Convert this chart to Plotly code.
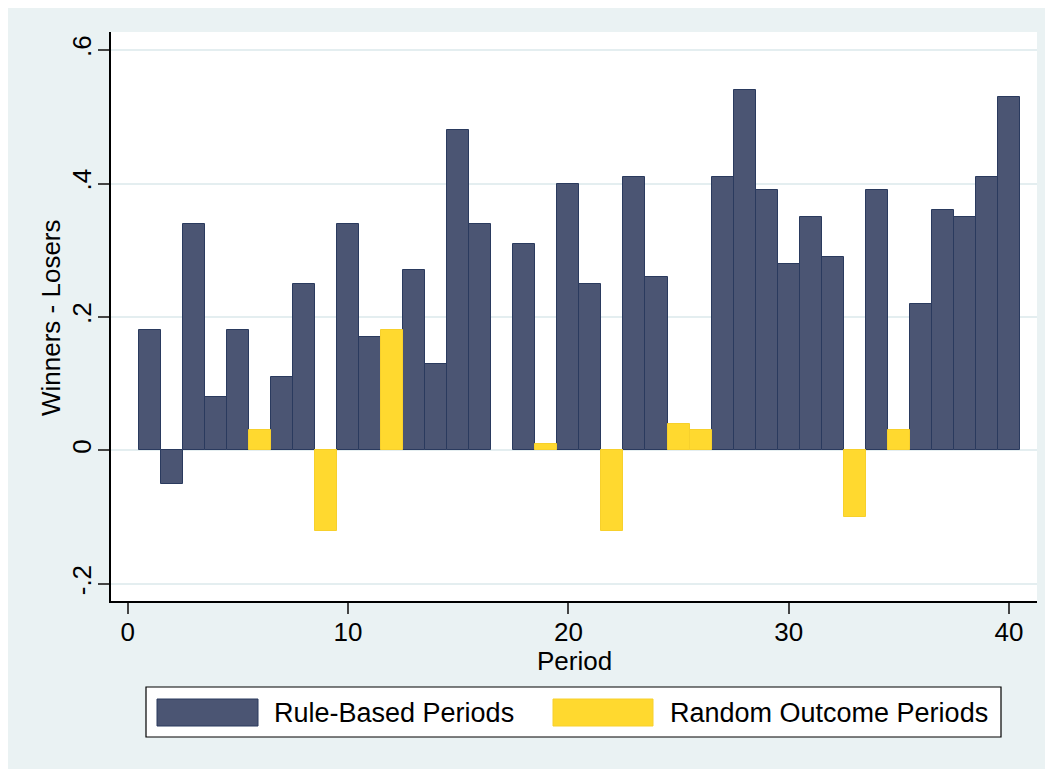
import plotly.graph_objects as go

# ---- data ----
rule_periods = [1, 2, 3, 4, 5, 7, 8, 10, 11, 13, 14, 15, 16, 18, 20, 21, 23, 24,
                27, 28, 29, 30, 31, 32, 34, 36, 37, 38, 39, 40]
rule_values = [0.18, -0.05, 0.34, 0.08, 0.18, 0.11, 0.25, 0.34, 0.17, 0.27, 0.13, 0.48, 0.34,
               0.31, 0.40, 0.25, 0.41, 0.26,
               0.41, 0.54, 0.39, 0.28, 0.35, 0.29, 0.39, 0.22, 0.36, 0.35, 0.41, 0.53]
random_periods = [6, 9, 12, 19, 22, 25, 26, 33, 35]
random_values = [0.03, -0.12, 0.18, 0.01, -0.12, 0.04, 0.03, -0.10, 0.03]

x_ticks = [0, 10, 20, 30, 40]
y_ticks = [-0.2, 0, 0.2, 0.4, 0.6]
y_tick_labels = ["-.2", "0", ".2", ".4", ".6"]
series_names = ["Rule-Based Periods", "Random Outcome Periods"]
x_title = "Period"
y_title = "Winners - Losers"

# ---- style ----
OFF = 8                      # page body margin
PAGE_W, PAGE_H = 1053, 773
W, H = PAGE_W - OFF, PAGE_H - OFF
# plot area in page pixels
PL, PR, PT, PB = 111, 1037, 32, 601
ML, MR, MT, MB = PL - OFF, W - (PR - OFF), PT - OFF, H - (PB - OFF)
PW, PH = PR - PL, PB - PT
NAVY, NAVY_LINE = "#4B5573", "#2A3A5E"
YELLOW, YELLOW_LINE = "#FFD92F", "#F7D02C"
BG = "#EAF2F3"
FONT = "Liberation Sans, Arial, sans-serif"
FS = 26


def px_x(p):
    return (p - PL) / PW


def px_y(p):
    return (PB - p) / PH


fig = go.Figure()
fig.add_trace(go.Bar(x=rule_periods, y=rule_values, name=series_names[0], width=1,
                     marker=dict(color=NAVY, line=dict(color=NAVY_LINE, width=1)),
                     showlegend=False))
fig.add_trace(go.Bar(x=random_periods, y=random_values, name=series_names[1], width=1,
                     marker=dict(color=YELLOW, line=dict(color=YELLOW_LINE, width=1)),
                     showlegend=False))

shapes = [
    # outer light background panel
    dict(type="rect", xref="paper", yref="paper", layer="below",
         x0=px_x(OFF), x1=px_x(1047), y0=px_y(769), y1=px_y(OFF),
         fillcolor=BG, line=dict(width=0)),
    # white plot region
    dict(type="rect", xref="paper", yref="paper", layer="below",
         x0=0, x1=1, y0=0, y1=1, fillcolor="white", line=dict(width=0)),
    # legend box
    dict(type="rect", xref="paper", yref="paper",
         x0=px_x(146), x1=px_x(1001), y0=px_y(737), y1=px_y(687),
         fillcolor="white", line=dict(color="black", width=1.2)),
    dict(type="rect", xref="paper", yref="paper",
         x0=px_x(157), x1=px_x(258), y0=px_y(726), y1=px_y(699),
         fillcolor=NAVY, line=dict(color=NAVY_LINE, width=1)),
    dict(type="rect", xref="paper", yref="paper",
         x0=px_x(553), x1=px_x(653), y0=px_y(726), y1=px_y(699),
         fillcolor=YELLOW, line=dict(color=YELLOW_LINE, width=1)),
]

annotations = [
    dict(text=series_names[0], xref="paper", yref="paper", x=px_x(272), y=px_y(713),
         xanchor="left", yanchor="middle", showarrow=False,
         font=dict(family=FONT, size=27, color="black")),
    dict(text=series_names[1], xref="paper", yref="paper", x=px_x(668), y=px_y(713),
         xanchor="left", yanchor="middle", showarrow=False,
         font=dict(family=FONT, size=27, color="black")),
    dict(text=x_title, xref="paper", yref="paper", x=px_x(574), y=px_y(661),
         xanchor="center", yanchor="middle", showarrow=False,
         font=dict(family=FONT, size=FS, color="black")),
    dict(text=y_title, xref="paper", yref="paper", x=px_x(51), y=px_y(317),
         xanchor="center", yanchor="middle", showarrow=False, textangle=-90,
         font=dict(family=FONT, size=FS, color="black")),
]

fig.update_layout(
    width=W, height=H, autosize=False,
    margin=dict(l=ML, r=MR, t=MT, b=MB, autoexpand=False),
    paper_bgcolor="white", plot_bgcolor="white",
    barmode="overlay", bargap=0,
    font=dict(family=FONT, size=FS, color="black"),
    shapes=shapes, annotations=annotations,
    showlegend=False,
)
fig.update_xaxes(
    range=[-0.76, 41.27], tickmode="array", tickvals=x_ticks,
    ticks="outside", ticklen=11, tickwidth=1.5, tickcolor="#444",
    ticklabelstandoff=-4,
    showline=True, linecolor="black", linewidth=1.5,
    showgrid=False, zeroline=False,
    tickfont=dict(family=FONT, size=FS),
)
fig.update_yaxes(
    range=[-0.2255, 0.627], tickmode="array", tickvals=y_ticks, ticktext=y_tick_labels,
    tickangle=-90, ticklabelstandoff=-3,
    ticks="outside", ticklen=11, tickwidth=1.5, tickcolor="#444",
    showline=True, linecolor="black", linewidth=1.5,
    showgrid=True, gridcolor="#E4EEF0", gridwidth=1.5, zeroline=False,
    tickfont=dict(family=FONT, size=FS),
)

fig.write_html("out.html")
